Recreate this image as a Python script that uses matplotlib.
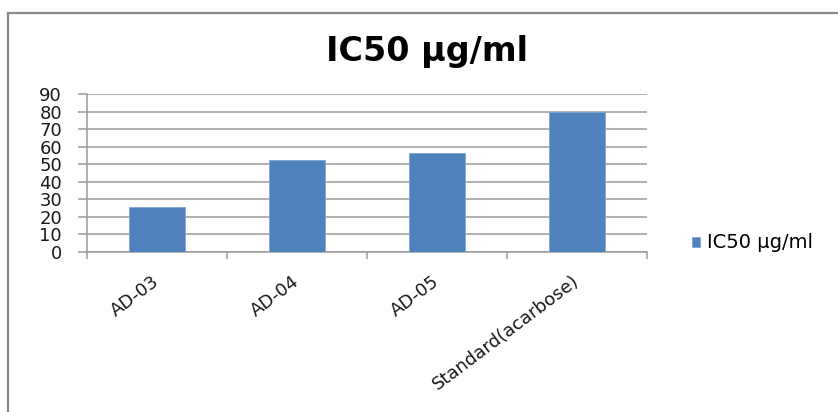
import matplotlib
matplotlib.use("Agg")
import matplotlib.pyplot as plt
from matplotlib.lines import Line2D
import numpy as np

categories = ["AD-03", "AD-04", "AD-05", "Standard(acarbose)"]
ic50_values = [25.4, 52.5, 56.3, 80.0]
series_name = "IC50 \u00b5g/ml"
title_text = "IC50 \u00b5g/ml"
y_ticks = [0, 10, 20, 30, 40, 50, 60, 70, 80, 90]

plt.rcParams["font.family"] = ["DejaVu Sans"]

W, H = 838, 412
PX = 72 / 100  # points per pixel at 100 dpi
fig = plt.figure(figsize=(W / 100, H / 100), dpi=100)
fig.patch.set_facecolor("white")

# chart frame (only left and top edges fall inside the canvas)
fig.add_artist(Line2D([8 / W, 8 / W], [0, 1 - 13 / H], transform=fig.transFigure,
                      color="#8a8a8a", lw=1.6))
fig.add_artist(Line2D([8 / W, 1], [1 - 13 / H, 1 - 13 / H], transform=fig.transFigure,
                      color="#8a8a8a", lw=1.6))

ax = fig.add_axes([87 / W, 1 - 251.7 / H, (647 - 87) / W, (251.7 - 94) / H])

x = np.arange(len(categories))
ax.bar(x, ic50_values, width=0.4, color="#4F81BD", edgecolor="#7fa6d6", linewidth=0.6,
       label=series_name, zorder=3)

ax.set_xlim(-0.5, len(categories) - 0.5)
ax.set_ylim(0, 90)
ax.set_yticks(y_ticks)
ax.set_yticklabels([str(v) for v in y_ticks], fontsize=13, color="#1a1a1a")
ax.yaxis.grid(True, color="#9a9a9a", lw=1.1, zorder=0)
ax.tick_params(axis="y", length=9 * PX, color="#9a9a9a", width=1.1, pad=16 * PX)

# category labels centred under bars, ticks at category boundaries
ax.set_xticks(x)
ax.set_xticklabels(categories, rotation=37, ha="right", va="center",
                   rotation_mode="anchor", fontsize=13, color="#1a1a1a")
ax.tick_params(axis="x", length=0, pad=20)
ax.set_xticks(np.arange(-0.5, len(categories)), minor=True)
ax.tick_params(axis="x", which="minor", length=7 * PX, color="#9a9a9a", width=1.1)

for side in ["top", "right"]:
    ax.spines[side].set_visible(False)
for side in ["left", "bottom"]:
    ax.spines[side].set_color("#9a9a9a")
    ax.spines[side].set_linewidth(1.1)

fig.text(427 / W, 1 - 61 / H, title_text, ha="center", va="baseline",
         fontsize=24, fontweight="bold", color="#000000")

ax.legend(loc="center left", bbox_to_anchor=(692 / W, 1 - 243 / H),
          bbox_transform=fig.transFigure, frameon=False, fontsize=14,
          borderaxespad=0, borderpad=0,
          handlelength=0.42, handleheight=0.42, handletextpad=0.36)

fig.savefig("out.png", dpi=100, facecolor="white")
